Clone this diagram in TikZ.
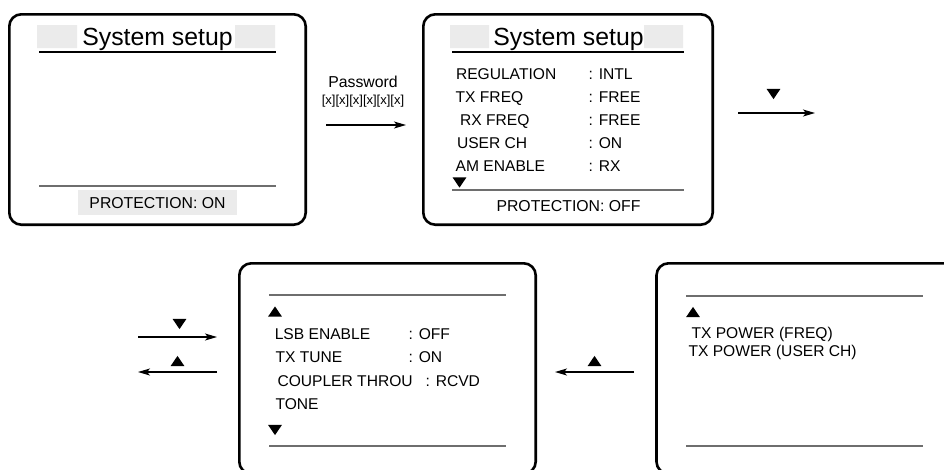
\documentclass[tikz,border=0pt]{standalone}
\usepackage{fontspec}
\setmainfont{Liberation Sans}
\usetikzlibrary{arrows.meta,shapes.geometric}
\definecolor{barfill}{HTML}{EBEBEB}
\definecolor{rulegray}{HTML}{6E6E6E}

\begin{document}
\begin{tikzpicture}[x=1pt, y=-1pt,
  screen/.style={draw, line width=2.6pt, rounded corners=12pt, minimum height=210.4pt, inner sep=0pt},
  title/.style={anchor=base, inner sep=0pt, font=\fontsize{24.8}{28}\selectfont},
  item/.style={anchor=base west, inner sep=0pt, font=\fontsize{15.6}{18}\selectfont},
  status/.style={anchor=base, inner sep=0pt, font=\fontsize{15.8}{18}\selectfont},
  toprule/.style={line width=1.2pt},
  botrule/.style={draw=rulegray, line width=1.5pt},
  up/.style={regular polygon, regular polygon sides=3, fill, inner sep=0pt, minimum size=16pt, yscale=0.85},
  down/.style={up, shape border rotate=180},
  flow/.style={line width=1.2pt, -{Stealth[length=12pt, width=7pt, inset=3pt]}}]
  \useasboundingbox (0,0) rectangle (944,469);
  \clip (0,0) rectangle (944,469);
  % (1) locked screen
  \node[screen, minimum width=296.4pt] (s1) at (157.5,119.5) {};
  \fill[barfill] (37,25) rectangle (77,48) (235,25) rectangle (275,48);
  \node[title] (t1) at (157.5,45) {System setup};
  \draw[toprule] (39,52) -- (276,52);
  \draw[botrule] (39,186) -- (276,186);
  \fill[barfill] (78,190) rectangle (237,215);
  \node[status] (p1) at (157.5,208.5) {PROTECTION: ON};
  % password step
  \coordinate (a1) at (326,125); \coordinate (b1) at (406,125);
  \draw[flow] (a1) -- (b1);
  \node[anchor=base, inner sep=0pt, font=\fontsize{15.8}{18}\selectfont] (pw) at (363,87.3) {Password};
  \node[anchor=base, inner sep=0pt, font=\fontsize{13}{15}\selectfont] (pk) at (363,104.5) {[x][x][x][x][x][x]};
  % (2) unlocked screen, page 1
  \node[screen, minimum width=289.4pt] (s2) at (568,119.5) {};
  \fill[barfill] (450,25) rectangle (489,48) (644,25) rectangle (683,48);
  \node[title] (t2) at (568.5,45) {System setup};
  \draw[toprule] (452,52) -- (684,52);
  \node[item] (r1) at (455.8,79)  {REGULATION};  \node[item] (v1) at (588.5,79)  {: INTL};
  \node[item] (r2) at (455.5,102) {TX FREQ};     \node[item] (v2) at (588.5,102) {: FREE};
  \node[item] (r3) at (460,125)   {RX FREQ};     \node[item] (v3) at (588.5,125) {: FREE};
  \node[item] (r4) at (456.8,148) {USER CH};     \node[item] (v4) at (588.5,148) {: ON};
  \node[item] (r5) at (455.5,171.5) {AM ENABLE}; \node[item] (v5) at (588.5,171.5) {: RX};
  \node[down] (d2) at (459.5,180.8) {};
  \draw[botrule] (452,190) -- (684,190);
  \node[status] (p2) at (568.5,211.5) {PROTECTION: OFF};
  % next page
  \coordinate (a2) at (738,113); \coordinate (b2) at (815,113);
  \draw[flow] (a2) -- (b2);
  \node[down] (d3) at (773.5,92.3) {};
  % (3) page 2
  \node[screen, minimum width=296.4pt] (s3) at (387.5,368.5) {};
  \draw[botrule] (269,295) -- (506,295);
  \node[up] (u3) at (275,313.2) {};
  \node[item] (q1) at (274.6,339)   {LSB ENABLE};    \node[item] (w1) at (408.5,339)   {: OFF};
  \node[item] (q2) at (275.3,362.7) {TX TUNE};       \node[item] (w2) at (408.5,362.7) {: ON};
  \node[item] (q3) at (277.3,386.7) {COUPLER THROU}; \node[item] (w3) at (425.5,386.7) {: RCVD};
  \node[item] (q4) at (275.3,409.3) {TONE};
  \node[down] (d4) at (275,428.3) {};
  \draw[botrule] (269,446) -- (506,446);
  % page 1 <-> page 2
  \coordinate (a3) at (138,337); \coordinate (b3) at (217,337);
  \draw[flow] (a3) -- (b3);
  \node[down] (d5) at (179.5,322.3) {};
  \coordinate (a4) at (217,372); \coordinate (b4) at (138,372);
  \draw[flow] (a4) -- (b4);
  \node[up] (u5) at (177.5,362.7) {};
  % (4) page 3
  \node[screen, minimum width=327pt] (s4) at (820,368.5) {};
  \draw[botrule] (686,296) -- (923,296);
  \node[up] (u6) at (693,313.7) {};
  \node[item] (x1) at (691.3,338)   {TX POWER (FREQ)};
  \node[item] (x2) at (688.3,356.7) {TX POWER (USER CH)};
  \draw[botrule] (686,446) -- (923,446);
  % page 3 -> page 2
  \coordinate (a5) at (634,372); \coordinate (b5) at (555,372);
  \draw[flow] (a5) -- (b5);
  \node[up] (u7) at (594.5,362.7) {};
\end{tikzpicture}
\end{document}
